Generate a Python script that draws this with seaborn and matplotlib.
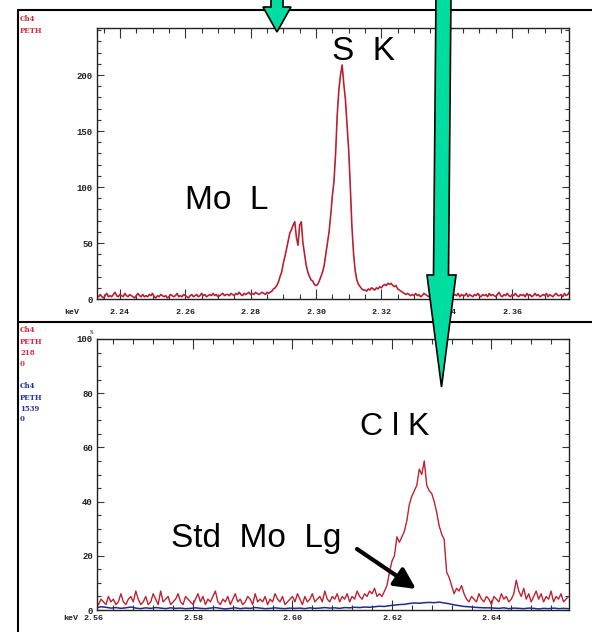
import numpy as np
import pandas as pd
import matplotlib
matplotlib.use('Agg')
import matplotlib.pyplot as plt
import seaborn as sns
from matplotlib.patches import Polygon
from matplotlib.ticker import MultipleLocator, FixedLocator

# ---------------- data ----------------
# top panel: S K / Mo L spectrum (counts), energy grid start/step in keV
top_start = 2.233
top_step = 0.0005
top_counts = [
    3, 2, 4, 2, 1, 3, 5, 2, 3, 2, 4, 6, 3, 2, 4, 3, 2, 5, 3, 2,
    4, 3, 2, 1, 3, 5, 3, 2, 4, 2, 3, 2, 4, 3, 5, 2, 1, 3, 2, 4,
    3, 2, 3, 1, 2, 4, 3, 2, 3, 5, 2, 3, 2, 4, 3, 2, 1, 3, 4, 2,
    3, 4, 2, 3, 5, 3, 4, 2, 3, 4, 3, 5, 3, 4, 2, 3, 4, 5, 3, 4,
    4, 3, 5, 4, 3, 5, 4, 6, 4, 3, 5, 4, 5, 6, 4, 5, 4, 6, 5, 4,
    5, 6, 5, 4, 6, 5,
    # peak region 2.2860 .. 2.3290
    6, 7, 9, 10, 12, 15, 20, 24, 32, 38,
    45, 52, 59, 62, 66, 69, 55, 48, 66, 69,
    50, 40, 30, 24, 20, 17, 16, 13, 12, 13,
    16, 20, 24, 30, 40, 50, 60, 75, 92, 105,
    130, 165, 187, 200, 209, 192, 178, 155, 133, 100,
    64, 40, 25, 17, 13, 11, 9, 8, 8, 7,
    9, 8, 10, 9, 8, 10, 9, 11, 10, 12,
    13, 12, 14, 13, 14, 12, 11, 12, 9, 8,
    7, 6, 5, 4, 5, 4, 3,
    # tail
    4, 3, 5, 3, 4, 2, 3, 5, 4, 3, 2, 4, 3, 5, 3, 2, 4, 3, 4, 2,
    3, 5, 3, 4, 2, 3, 4, 3, 5, 2, 4, 3, 3, 5, 2, 4, 3, 2, 4, 3,
    5, 3, 2, 4, 3, 4, 2, 5, 3, 4, 3, 2, 4, 6, 3, 2, 4, 3, 5, 3,
    2, 4, 3, 5, 3, 2, 4, 3, 4, 2, 5, 3, 4, 2, 3, 5, 3, 4, 2, 3,
    4, 3, 5, 2, 4, 3, 2, 4, 5, 3, 3, 4, 2, 5, 3, 4, 6,
]

# bottom panel: Cl K sample (red, %) and Std Mo Lg (blue, %)
bot_start = 2.5605
red_step = 0.0005
red_pct = [
    3, 2, 4, 3, 2, 5, 3, 4, 2, 3, 6, 3, 2, 4, 5, 3, 7, 4, 2, 3,
    5, 2, 3, 6, 4, 2, 7, 3, 4, 5, 2, 3, 4, 6, 3, 2, 5, 4, 3, 2,
    4, 6, 3, 5, 2, 4, 3, 5, 7, 3, 2, 4, 3, 5, 2, 4, 6, 3, 4, 2,
    3, 5, 4, 2, 6, 3, 4, 3, 5, 2, 4, 3, 6, 4, 3, 5, 2, 3, 4, 5,
    3, 6, 4, 2, 5, 3, 4, 6, 3, 4, 5, 3, 7, 4, 3, 5, 4, 6, 3, 5,
    4, 6, 3, 5, 4, 7, 5, 4, 6, 5, 7, 6, 8,
    # Cl K peak 2.6170 .. 2.6350
    5, 6, 5, 7, 9, 14, 18, 20, 27, 25,
    27, 29, 33, 39, 42, 44, 46, 52, 50, 55,
    46, 44, 43, 40, 36, 31, 28, 26, 14, 12,
    9, 6, 8, 7, 9, 6, 4,
    # tail
    3, 5, 4, 3, 6, 4, 3, 5, 4, 2, 5, 4, 3, 6, 4, 5, 3, 4, 6, 11,
    7, 5, 8, 4, 6, 3, 5, 7, 4, 6, 3, 5, 4, 7, 3, 5, 4, 6, 3, 4, 5,
]
blue_step = 0.001
blue_pct = [
    0.8, 1.2, 1.0, 0.7, 0.9, 0.6, 0.8, 1.1, 0.7, 0.5, 0.8, 0.6, 0.9, 0.7, 0.5, 0.8, 0.6, 0.7, 0.5, 0.6,
    0.8, 0.6, 0.5, 0.7, 0.9, 0.6, 0.4, 0.6, 0.8, 0.5, 0.7, 0.6, 0.9, 0.7, 0.5, 0.6, 0.8, 0.6, 0.5, 0.7,
    0.6, 0.7, 0.5, 0.8, 0.6, 0.7, 0.9, 0.7, 0.8, 0.6, 0.9, 0.8, 1.0, 0.9, 1.1, 1.0,
    1.2, 1.4, 1.3, 1.6, 1.8, 2.0, 2.1, 2.4, 2.6, 2.5, 2.7, 2.8, 2.7, 2.9, 2.6, 2.3, 1.9, 1.6, 1.3, 1.2,
    1.0, 0.9, 0.8, 0.8,
    0.7, 0.6, 0.8, 0.5, 0.7, 0.6, 0.5, 0.7, 0.6, 0.4, 0.6, 0.5, 0.7, 0.5, 0.6, 0.5,
]

top_xticks = [2.24, 2.26, 2.28, 2.30, 2.32, 2.34, 2.36]
top_xticklabels = ['2.24', '2.26', '2.28', '2.30', '2.32', '2.34', '2.36']
top_yticks = [0, 50, 100, 150, 200]
bot_xticks = [2.58, 2.60, 2.62, 2.64]
bot_xticklabels = ['2.58', '2.60', '2.62', '2.64']
bot_yticks = [0, 20, 40, 60, 80, 100]

top_df = pd.DataFrame({'keV': top_start + top_step * np.arange(len(top_counts)),
                       'counts': top_counts})
red_df = pd.DataFrame({'keV': bot_start + red_step * np.arange(len(red_pct)),
                       'pct': red_pct})
blue_df = pd.DataFrame({'keV': bot_start + blue_step * np.arange(len(blue_pct)),
                        'pct': blue_pct})

# ---------------- figure ----------------
sns.set_theme(style='white')
plt.rcParams['font.family'] = ['DejaVu Sans']

W, H = 592, 632
fig = plt.figure(figsize=(W / 100, H / 100), dpi=100)
fig.patch.set_facecolor('white')


def rect(l, t, r, b):
    return [l / W, 1 - b / H, (r - l) / W, (b - t) / H]


ax1 = fig.add_axes(rect(97, 28, 569, 299))
ax2 = fig.add_axes(rect(97, 339, 569, 610))

RED = '#d42a3c'
DARK = '#6a1a26'
BLUE = '#1f2a8a'

sns.lineplot(data=top_df, x='keV', y='counts', ax=ax1, color=RED, lw=1.2,
             estimator=None, legend=False)
sns.lineplot(data=top_df, x='keV', y='counts', ax=ax1, color=DARK, lw=0.45,
             estimator=None, legend=False, alpha=0.6)
sns.lineplot(data=blue_df, x='keV', y='pct', ax=ax2, color=BLUE, lw=1.1,
             estimator=None, legend=False)
sns.lineplot(data=red_df, x='keV', y='pct', ax=ax2, color=RED, lw=1.0,
             estimator=None, legend=False)
sns.lineplot(data=red_df, x='keV', y='pct', ax=ax2, color=DARK, lw=0.4,
             estimator=None, legend=False, alpha=0.45)

ax1.set_xlim(2.2330, 2.3774)
ax1.set_ylim(0, 242)
ax2.set_xlim(2.5607, 2.6556)
ax2.set_ylim(0, 100)

tickfont = dict(family=['Liberation Mono', 'DejaVu Sans Mono'], weight='bold')

for ax in (ax1, ax2):
    ax.set_facecolor('white')
    ax.set_xlabel('')
    ax.set_ylabel('')
    for s in ax.spines.values():
        s.set_visible(True)
        s.set_color('#222222')
        s.set_linewidth(1.0)
    ax.tick_params(which='both', direction='in', top=True, right=True,
                   bottom=True, left=True, colors='#333333', width=0.8,
                   labeltop=False, labelright=False)
    ax.tick_params(axis='x', which='major', length=7.5)
    ax.tick_params(axis='x', which='minor', length=3.5)
    ax.tick_params(axis='y', which='major', length=5, pad=3)
    ax.tick_params(axis='y', which='minor', length=3)

ax1.xaxis.set_major_locator(FixedLocator(top_xticks))
ax1.set_xticklabels(top_xticklabels, fontsize=6, color='#222222', **tickfont)
ax1.xaxis.set_minor_locator(MultipleLocator(0.005))
ax1.yaxis.set_major_locator(FixedLocator(top_yticks))
ax1.set_yticklabels([str(v) for v in top_yticks], fontsize=6.5, color='#222222', **tickfont)
ax1.yaxis.set_minor_locator(MultipleLocator(10))
ax1.tick_params(axis='x', which='major', pad=7.5)

ax2.xaxis.set_major_locator(FixedLocator(bot_xticks))
ax2.set_xticklabels(bot_xticklabels, fontsize=6, color='#222222', **tickfont)
ax2.xaxis.set_minor_locator(MultipleLocator(0.004))
ax2.yaxis.set_major_locator(FixedLocator(bot_yticks))
ax2.set_yticklabels([str(v) for v in bot_yticks], fontsize=6.5, color='#222222', **tickfont)
ax2.yaxis.set_minor_locator(MultipleLocator(5))
ax2.tick_params(axis='x', which='major', pad=3.5)

# ---------------- overlay (pixel coordinates) ----------------
ov = fig.add_axes([0, 0, 1, 1], zorder=10)
ov.set_xlim(0, W)
ov.set_ylim(H, 0)
ov.axis('off')
ov.patch.set_alpha(0)

# panel frames
ov.plot([18, W + 2], [10, 10], color='black', lw=1.5, zorder=1)
ov.plot([18, 18], [10, H + 2], color='black', lw=1.5, zorder=1)
ov.plot([18, W + 2], [321.5, 321.5], color='black', lw=1.5, zorder=1)

# axis unit labels
ov.text(72, 313, 'keV', fontsize=6, color='#222222', ha='center', va='center', **tickfont)
ov.text(71, 619, 'keV', fontsize=6, color='#222222', ha='center', va='center', **tickfont)
ov.text(93, 619, '2.56', fontsize=6, color='#222222', ha='center', va='center', **tickfont)
ov.text(92, 333, '%', fontsize=4, color='#222222', ha='center', va='center', **tickfont)

# channel info
small = dict(family=['DejaVu Serif'], weight='bold', fontsize=5, ha='left', va='center')
ov.text(20, 19, 'Ch4', color=RED, **small)
ov.text(20, 31, 'PETH', color=RED, **small)
for yy, s in zip([330, 342, 353, 364], ['Ch4', 'PETH', '218', '0']):
    ov.text(20, yy, s, color=RED, **small)
for yy, s in zip([386, 398, 409, 419], ['Ch4', 'PETH', '1539', '0']):
    ov.text(20, yy, s, color='#2233aa', **small)

# big annotations
big = dict(family=['Liberation Sans', 'DejaVu Sans'], color='black', ha='center', va='baseline')
ov.text(363, 60, 'S  K', fontsize=24, **big)
ov.text(227, 209, 'Mo  L', fontsize=24, **big)
ov.text(395, 435, 'C l K', fontsize=23, **big)
ov.text(256, 547, 'Std  Mo  Lg', fontsize=24, **big)

ov.annotate('', xy=(416, 589), xytext=(357, 549),
            arrowprops=dict(arrowstyle='-|>,head_length=0.9,head_width=0.45',
                            lw=3, color='black', shrinkA=0, shrinkB=0,
                            mutation_scale=14), zorder=5)

GREEN = '#00DDA0'
small_arrow = [(271, -5), (283, -5), (283, 7), (291, 7), (277, 32), (263, 7), (271, 7)]
big_arrow = [(436, -5), (451, -5), (448.5, 275), (456, 275), (441.5, 387),
             (427, 275), (433.5, 275)]
ov.add_patch(Polygon(small_arrow, closed=True, facecolor=GREEN, edgecolor='black', lw=1.2, zorder=8))
ov.add_patch(Polygon(big_arrow, closed=True, facecolor=GREEN, edgecolor='black', lw=1.2, zorder=8))

fig.savefig('out.png', dpi=100, facecolor='white')
